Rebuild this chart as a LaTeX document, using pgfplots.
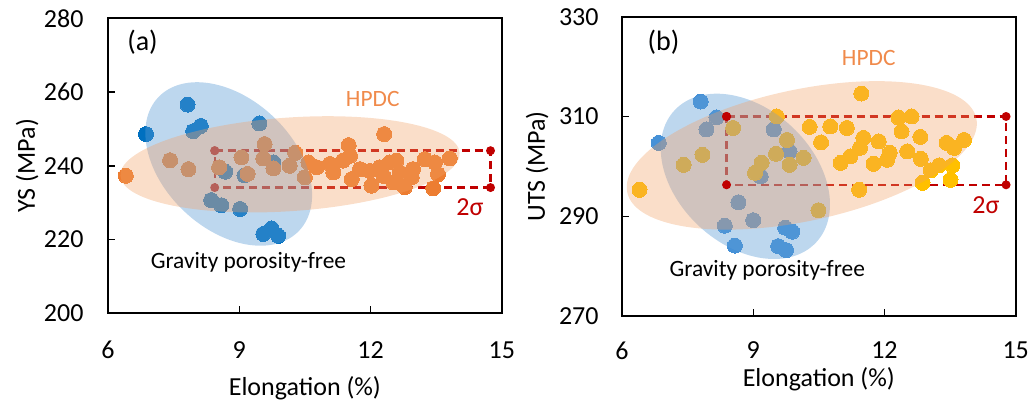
\documentclass[border=0pt]{standalone}
\usepackage{fontspec}
\setmainfont{Carlito}
\usepackage{pgfplots}
\pgfplotsset{compat=1.18}
\definecolor{blueA}{RGB}{0,112,192}
\definecolor{blueB}{RGB}{70,145,215}
\definecolor{orangeA}{RGB}{237,125,49}
\definecolor{goldA}{RGB}{255,192,0}
\definecolor{ellB}{RGB}{91,155,213}
\definecolor{ellO}{RGB}{241,160,100}
\definecolor{dred}{RGB}{192,0,0}
\definecolor{hpdc}{RGB}{240,138,75}

\tikzset{
 pts/.style={only marks, mark=*, mark size=3.75pt, mark options={draw=#1, fill=#1, line width=0pt}},
 sigbox/.style={draw=dred, line width=1.2pt, dash pattern=on 4pt off 2.5pt, mark=*, mark size=1.6pt, mark options={solid, fill=dred, draw=dred}},
 ann/.style={font=\fontsize{11.7}{14}\selectfont, inner sep=0pt},
}
% ellipse drawn as a single scaled, rotated mark: {colour}{opacity}{semi-major pt}{semi-minor pt}{angle}
\pgfplotsset{
 ellmark/.style n args={5}{only marks, mark=*, mark size=1pt, color=#1,
   mark options={line width=0pt, draw opacity=0, fill=#1, fill opacity=#2, rotate=#5, xscale=#3, yscale=#4}},
 myaxis/.style={
  scale only axis,
  xmin=6, xmax=15, xtick={6,9,12,15},
  tick align=inside, xtick pos=bottom, ytick pos=left,
  major tick length=3.5pt,
  axis line style={line width=1pt},
  every tick/.style={black, line width=0.7pt},
  tick label style={font=\fontsize{13}{15}\selectfont},
  /pgf/number format/assume math mode=true,
  every axis x label/.style={anchor=base, font=\fontsize{13}{15}\selectfont},
  every axis y label/.style={rotate=90, anchor=base, font=\fontsize{13}{15}\selectfont},
  clip=false,
 },
}

\begin{document}
\begin{tikzpicture}
\useasboundingbox (0,0) rectangle (514.5pt,201.5pt);

% ---------------- (a) ----------------
\begin{axis}[myaxis,
  at={(53.95pt,44.85pt)}, anchor=south west,
  width=197pt, height=147.5pt,
  ymin=200, ymax=280, ytick={200,220,240,260,280},
  xticklabel style={yshift=-10.5pt},
  yticklabel style={xshift=-8.7pt},
  xlabel={Elongation (\%)}, ylabel={YS (MPa)},
  xlabel style={at={(axis description cs:0.5,-0.277)}},
  ylabel style={at={(axis description cs:-0.1853,0.5)}},
]
\addplot[pts=blueA] coordinates {
(6.87,248.6)(7.82,256.6)(7.95,249.4)(8.12,250.8)(9.46,251.5)(8.68,238.4)(9.12,237.4)
(9.78,240.9)(8.36,230.7)(8.59,229.3)(9.02,228.3)(9.55,221.5)(9.74,223.0)(9.89,221.0)
};
\addplot[pts=orangeA] coordinates {
(6.41,237.3)(7.42,241.5)(7.84,239.1)(8.54,239.6)(9.05,242.3)(9.19,237.8)(9.58,245.9)
(9.55,242.0)(9.78,239.3)(10.15,240.0)(10.28,243.5)(10.50,236.9)(10.58,240.9)(10.77,239.6)
(11.07,240.5)(11.15,238.2)(11.37,241.4)(11.53,242.7)(11.50,245.6)(11.57,236.4)(11.76,239.1)
(11.98,238.6)(12.02,234.6)(12.21,239.6)(12.29,237.3)(12.31,248.6)(12.44,240.9)(12.52,235.5)
(12.59,241.4)(12.67,238.2)(12.78,234.2)(12.94,236.9)(12.97,239.1)(13.24,241.8)(13.47,240.9)
(13.54,237.7)(13.43,233.9)(13.81,242.0)
};
\addplot[sigbox] coordinates {(8.44,244.1)(14.74,244.1)(14.74,234.1)(8.44,234.1)(8.44,244.1)};
\addplot[ellmark={ellB}{0.4}{48.5}{32.5}{-43.5}] coordinates {(8.76,240.5)};
\addplot[ellmark={ellO}{0.35}{85}{23.4}{3.9}] coordinates {(10.16,240.4)};
\node[font=\fontsize{14}{16}\selectfont, inner sep=0pt] at (axis cs:6.79,273.5) {(a)};
\node[ann, text=hpdc] at (axis cs:12.05,258.0) {HPDC};
\node[ann] at (axis cs:9.21,213.7) {Gravity porosity-free};
\node[font=\fontsize{13}{15}\selectfont, text=dred, inner sep=0pt] at (axis cs:14.27,228.8) {2σ};
\end{axis}

% ---------------- (b) ----------------
\begin{axis}[myaxis,
  at={(311pt,43.5pt)}, anchor=south west,
  width=196.85pt, height=149.65pt,
  ymin=270, ymax=330, ytick={270,290,310,330},
  xticklabel style={yshift=-9.5pt},
  yticklabel style={xshift=-8.2pt},
  xlabel={Elongation (\%)}, ylabel={UTS (MPa)},
  xlabel style={at={(axis description cs:0.5,-0.234)}},
  ylabel style={at={(axis description cs:-0.1956,0.5)}},
]
\addplot[pts=blueB] coordinates {
(7.80,313.0)(8.16,309.8)(7.93,307.4)(6.84,304.7)(9.47,307.4)(9.83,303.0)(9.17,298.0)
(8.66,292.8)(9.0,289.2)(8.35,288.1)(8.58,284.1)(9.73,287.7)(9.89,286.9)(9.57,284.0)(9.75,283.2)
};
\addplot[pts=goldA] coordinates {
(6.40,295.3)(7.41,300.3)(7.84,302.3)(8.54,307.7)(9.04,298.7)(9.19,300.7)(9.54,310.0)
(9.52,302.5)(9.77,305.3)(9.83,300.3)(10.15,301.7)(10.49,291.2)(10.29,307.9)(10.55,304.8)
(10.76,308.0)(11.14,307.7)(11.47,314.6)(11.42,295.3)(11.00,300.7)(11.22,302.0)(11.52,305.7)
(11.44,303.7)(11.75,300.5)(11.87,305.0)(12.06,301.3)(12.12,302.7)(12.32,309.8)(12.62,310.0)
(12.39,307.0)(12.52,303.0)(12.82,305.9)(12.83,301.5)(12.87,296.7)(13.06,299.2)(13.25,300.2)
(13.42,304.7)(13.51,297.3)(13.55,300.2)(13.82,305.3)(13.59,303.7)
};
\addplot[ellmark={ellB}{0.4}{48.4}{34}{-43}] coordinates {(8.82,298.0)};
\addplot[ellmark={ellO}{0.35}{89.2}{32.9}{11.95}] coordinates {(10.11,302.2)};
\addplot[sigbox] coordinates {(8.39,310.0)(14.78,310.0)(14.78,296.3)(8.39,296.3)(8.39,310.0)};
\node[font=\fontsize{14}{16}\selectfont, inner sep=0pt] at (axis cs:6.95,324.8) {(b)};
\node[ann, text=hpdc] at (axis cs:11.64,321.7) {HPDC};
\node[ann] at (axis cs:9.32,279.2) {Gravity porosity-free};
\node[font=\fontsize{13}{15}\selectfont, text=dred, inner sep=0pt] at (axis cs:14.32,292.3) {2σ};
\end{axis}
\end{tikzpicture}
\end{document}
